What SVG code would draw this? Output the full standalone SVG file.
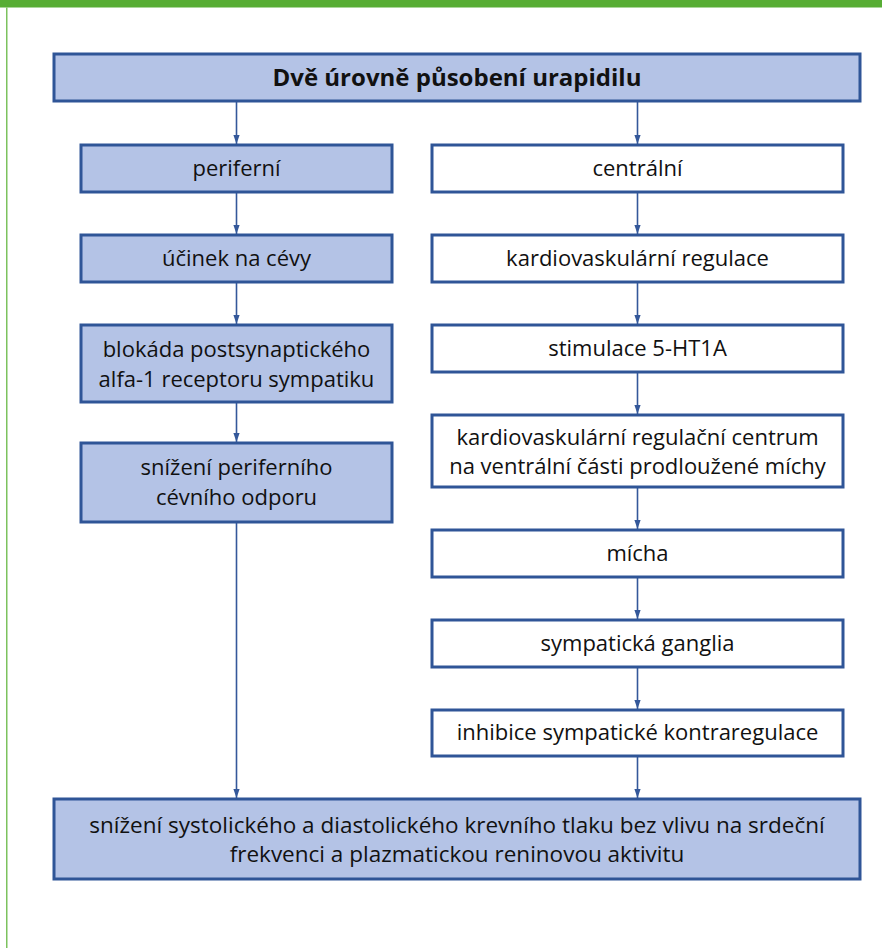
<svg xmlns="http://www.w3.org/2000/svg" width="882" height="948" viewBox="0 0 882 948">
<defs>
<marker id="ah" markerWidth="9" markerHeight="13" refX="13" refY="4.5" orient="auto" markerUnits="userSpaceOnUse" viewBox="0 0 13 9">
<path d="M0,0 L13,4.5 L0,9 Z" fill="#34589a"/>
</marker>
<style>
.bx{stroke:#2f5597;stroke-width:3}
.fb{fill:#b4c3e6}
.fw{fill:#ffffff}
.t{font-family:"Open Sans","Liberation Sans",sans-serif;font-size:22px;fill:#111;text-anchor:middle}
.tb{font-weight:bold;font-size:24px}
.tl{font-size:22.5px}
.c{stroke:#34589a;stroke-width:1.6;fill:none;marker-end:url(#ah)}
</style>
</defs>
<rect x="0" y="0" width="882" height="948" fill="#ffffff"/>
<rect x="0" y="0" width="882" height="7.5" fill="#57ad34"/>
<rect x="6" y="7.5" width="1.5" height="940.5" fill="#7cc25e"/>

<g id="connectors">
<line class="c" x1="236.5" y1="101" x2="236.5" y2="144"/>
<line class="c" x1="637.5" y1="101" x2="637.5" y2="144"/>
<line class="c" x1="236.5" y1="192" x2="236.5" y2="234"/>
<line class="c" x1="236.5" y1="282" x2="236.5" y2="324"/>
<line class="c" x1="236.5" y1="402" x2="236.5" y2="442"/>
<line class="c" x1="236.5" y1="522" x2="236.5" y2="798"/>
<line class="c" x1="637.5" y1="192" x2="637.5" y2="234"/>
<line class="c" x1="637.5" y1="282" x2="637.5" y2="324"/>
<line class="c" x1="637.5" y1="372" x2="637.5" y2="414"/>
<line class="c" x1="637.5" y1="487" x2="637.5" y2="529"/>
<line class="c" x1="637.5" y1="577" x2="637.5" y2="619"/>
<line class="c" x1="637.5" y1="667" x2="637.5" y2="709"/>
<line class="c" x1="637.5" y1="756" x2="637.5" y2="798"/>
</g>

<g id="n-title"><rect class="bx fb" x="54" y="54" width="806" height="47"/><text class="t tb" x="457" y="86">Dvě úrovně působení urapidilu</text></g>

<g id="n-periferni"><rect class="bx fb" x="81" y="145" width="311" height="47"/><text class="t" x="236.5" y="176">periferní</text></g>
<g id="n-ucinek"><rect class="bx fb" x="81" y="235" width="311" height="47"/><text class="t" x="236.5" y="266">účinek na cévy</text></g>
<g id="n-blokada"><rect class="bx fb" x="81" y="325" width="311" height="77"/><text class="t" x="236.5" y="357">blokáda postsynaptického</text><text class="t" x="236.5" y="387">alfa-1 receptoru sympatiku</text></g>
<g id="n-snizeni"><rect class="bx fb" x="81" y="443" width="311" height="79"/><text class="t" x="236.5" y="475">snížení periferního</text><text class="t" x="236.5" y="505">cévního odporu</text></g>

<g id="n-centralni"><rect class="bx fw" x="432" y="145" width="411" height="47"/><text class="t" x="637.5" y="176">centrální</text></g>
<g id="n-kardio"><rect class="bx fw" x="432" y="235" width="411" height="47"/><text class="t" x="637.5" y="266">kardiovaskulární regulace</text></g>
<g id="n-stimulace"><rect class="bx fw" x="432" y="325" width="411" height="47"/><text class="t" x="637.5" y="356">stimulace 5-HT1A</text></g>
<g id="n-centrum"><rect class="bx fw" x="432" y="415" width="411" height="72"/><text class="t" x="637.5" y="445">kardiovaskulární regulační centrum</text><text class="t" x="637.5" y="474">na ventrální části prodloužené míchy</text></g>
<g id="n-micha"><rect class="bx fw" x="432" y="530" width="411" height="47"/><text class="t" x="637.5" y="561">mícha</text></g>
<g id="n-ganglia"><rect class="bx fw" x="432" y="620" width="411" height="47"/><text class="t" x="637.5" y="651">sympatická ganglia</text></g>
<g id="n-inhibice"><rect class="bx fw" x="432" y="710" width="411" height="46"/><text class="t" x="637.5" y="740">inhibice sympatické kontraregulace</text></g>

<g id="n-vysledek"><rect class="bx fb" x="54" y="799" width="806" height="80"/><text class="t tl" x="457" y="833">snížení systolického a diastolického krevního tlaku bez vlivu na srdeční</text><text class="t tl" x="457" y="862">frekvenci a plazmatickou reninovou aktivitu</text></g>
</svg>
